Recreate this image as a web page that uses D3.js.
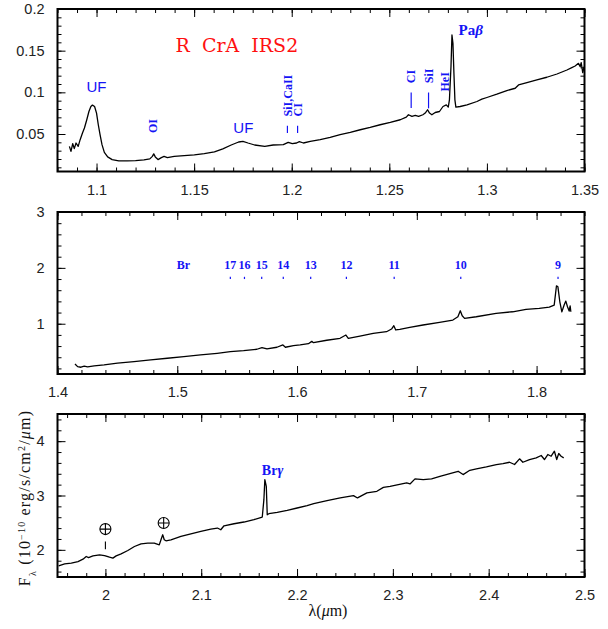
<!DOCTYPE html>
<html>
<head>
<meta charset="utf-8">
<script src="https://cdn.jsdelivr.net/npm/d3@7"></script>
<style>
  body { margin: 0; background: #fff; }
</style>
</head>
<body>
<div class="container"></div>
<script>
/* Spectrum */

// J band (top panel)
const jWave = [1.0861, 1.0869, 1.0878, 1.0886, 1.0895, 1.0906, 1.0916, 1.0928, 1.0938, 1.0950,
  1.0961, 1.0971, 1.0979, 1.0990, 1.1000, 1.1009, 1.1018, 1.1028, 1.1040, 1.1057,
  1.1080, 1.1114, 1.1157, 1.1200, 1.1243, 1.1273, 1.1286, 1.1293, 1.1301, 1.1315,
  1.1332, 1.1346, 1.1363, 1.1398, 1.1449, 1.1501, 1.1552, 1.1604, 1.1647, 1.1690,
  1.1728, 1.1750, 1.1776, 1.1810, 1.1862, 1.1905, 1.1957, 1.1982, 1.2003, 1.2025,
  1.2039, 1.2060, 1.2095, 1.2146, 1.2197, 1.2248, 1.2300, 1.2351, 1.2402, 1.2453,
  1.2505, 1.2556, 1.2587, 1.2598, 1.2616, 1.2633, 1.2650, 1.2672, 1.2684, 1.2696,
  1.2706, 1.2718, 1.2735, 1.2757, 1.2775, 1.2792, 1.2802, 1.2808, 1.2816, 1.2821,
  1.2826, 1.2831, 1.2836, 1.2841, 1.2863, 1.2898, 1.2949, 1.2974, 1.3000, 1.3051,
  1.3102, 1.3145, 1.3162, 1.3205, 1.3256, 1.3307, 1.3359, 1.3410, 1.3435, 1.3452,
  1.3469, 1.3478, 1.3483, 1.3491, 1.3498];
const jFlux = [0.0352, 0.0292, 0.0384, 0.0324, 0.0392, 0.0352, 0.0432, 0.0512, 0.0572, 0.0671,
  0.0770, 0.0830, 0.0847, 0.0830, 0.0751, 0.0611, 0.0492, 0.0372, 0.0280, 0.0225,
  0.0193, 0.0177, 0.0177, 0.0181, 0.0189, 0.0201, 0.0232, 0.0261, 0.0225, 0.0193,
  0.0217, 0.0232, 0.0217, 0.0232, 0.0240, 0.0249, 0.0264, 0.0285, 0.0321, 0.0368,
  0.0404, 0.0412, 0.0392, 0.0368, 0.0352, 0.0368, 0.0372, 0.0400, 0.0384, 0.0392,
  0.0408, 0.0392, 0.0411, 0.0432, 0.0459, 0.0492, 0.0519, 0.0551, 0.0579, 0.0611,
  0.0639, 0.0671, 0.0703, 0.0731, 0.0711, 0.0723, 0.0711, 0.0731, 0.0751, 0.0791,
  0.0751, 0.0731, 0.0758, 0.0770, 0.0830, 0.0850, 0.0823, 0.0910, 0.1309, 0.1688,
  0.1589, 0.1230, 0.0910, 0.0823, 0.0830, 0.0850, 0.0890, 0.0918, 0.0938, 0.0978,
  0.1021, 0.1049, 0.1089, 0.1117, 0.1149, 0.1181, 0.1220, 0.1268, 0.1296, 0.1316,
  0.1348, 0.1308, 0.1356, 0.1237, 0.1308];

// H band (middle panel)
const hWave = [1.4146, 1.4168, 1.4196, 1.4223, 1.4251, 1.4306, 1.4389, 1.4501, 1.4639, 1.4778,
  1.4917, 1.5055, 1.5194, 1.5333, 1.5443, 1.5554, 1.5665, 1.5707, 1.5749, 1.5832,
  1.5882, 1.5903, 1.5970, 1.6026, 1.6095, 1.6123, 1.6137, 1.6248, 1.6359, 1.6408,
  1.6428, 1.6525, 1.6636, 1.6747, 1.6789, 1.6808, 1.6824, 1.6858, 1.6941, 1.7052,
  1.7190, 1.7301, 1.7343, 1.7363, 1.7379, 1.7399, 1.7496, 1.7662, 1.7800, 1.7912,
  1.8022, 1.8106, 1.8147, 1.8166, 1.8178, 1.8194, 1.8211, 1.8230, 1.8244, 1.8258,
  1.8272, 1.8280, 1.8286];
const hFlux = [0.280, 0.232, 0.221, 0.239, 0.227, 0.245, 0.262, 0.293, 0.321, 0.352,
  0.382, 0.411, 0.441, 0.471, 0.500, 0.518, 0.543, 0.571, 0.548, 0.579,
  0.620, 0.579, 0.607, 0.620, 0.643, 0.684, 0.661, 0.704, 0.739, 0.798,
  0.739, 0.780, 0.829, 0.857, 0.905, 0.964, 0.888, 0.900, 0.936, 0.977,
  1.025, 1.066, 1.125, 1.232, 1.143, 1.096, 1.125, 1.186, 1.214, 1.257,
  1.275, 1.298, 1.334, 1.679, 1.661, 1.393, 1.214, 1.334, 1.405, 1.304,
  1.227, 1.321, 1.214];

// K band (bottom panel)
const kWave = [1.9512, 1.9575, 1.9644, 1.9714, 1.9766, 1.9800, 1.9824, 1.9870, 1.9939, 1.9991,
  2.0043, 2.0078, 2.0112, 2.0164, 2.0234, 2.0303, 2.0372, 2.0442, 2.0510, 2.0562,
  2.0580, 2.0598, 2.0614, 2.0632, 2.0684, 2.0788, 2.0892, 2.0996, 2.1100, 2.1169,
  2.1204, 2.1238, 2.1342, 2.1446, 2.1550, 2.1637, 2.1654, 2.1664, 2.1679, 2.1689,
  2.1706, 2.1793, 2.1897, 2.2001, 2.2105, 2.2174, 2.2313, 2.2451, 2.2589, 2.2631,
  2.2729, 2.2833, 2.2901, 2.2971, 2.3057, 2.3144, 2.3179, 2.3231, 2.3317, 2.3404,
  2.3491, 2.3595, 2.3681, 2.3733, 2.3803, 2.3872, 2.3976, 2.4080, 2.4149, 2.4218,
  2.4270, 2.4322, 2.4357, 2.4426, 2.4496, 2.4548, 2.4582, 2.4617, 2.4652, 2.4686,
  2.4710, 2.4731, 2.4756, 2.4783];
const kFlux = [1.705, 1.741, 1.754, 1.784, 1.828, 1.877, 1.858, 1.889, 1.908, 1.895,
  1.865, 1.847, 1.889, 1.926, 1.987, 2.061, 2.111, 2.124, 2.124, 2.092,
  2.185, 2.277, 2.185, 2.166, 2.185, 2.246, 2.295, 2.338, 2.382, 2.401,
  2.369, 2.443, 2.480, 2.512, 2.554, 2.604, 2.923, 3.293, 3.169, 2.646,
  2.665, 2.689, 2.726, 2.770, 2.813, 2.849, 2.905, 2.955, 2.997, 2.955,
  3.047, 3.077, 3.150, 3.169, 3.200, 3.232, 3.213, 3.306, 3.293, 3.306,
  3.354, 3.404, 3.446, 3.385, 3.464, 3.490, 3.527, 3.570, 3.588, 3.612,
  3.570, 3.675, 3.612, 3.662, 3.693, 3.736, 3.662, 3.754, 3.723, 3.815,
  3.662, 3.773, 3.723, 3.693];

/* Axis ticks */
const jTicksX = [1.1, 1.15, 1.2, 1.25, 1.3, 1.35];
const jTicksY = [0.05, 0.1, 0.15, 0.2];
const hTicksX = [1.4, 1.5, 1.6, 1.7, 1.8];
const hTicksY = [1, 2, 3];
const kTicksX = [2, 2.1, 2.2, 2.3, 2.4, 2.5];
const kTicksY = [2, 3, 4];

/* Line identifications (wavelength, flux where the label starts) */
// rotated labels in the J band, with the little marker below some of them
const jLineNames = ['OI', 'SiI,CaII', 'CI', 'CI', 'SiI', 'HeI'];
const jLineWave = [1.1290, 1.1978, 1.2030, 1.2612, 1.2701, 1.2782];
const jLineLabelAt = [0.0511, 0.0711, 0.0711, 0.1110, 0.1110, 0.1010];
const jLineMarkTop = [null, 0.0599, 0.0599, 0.0998, 0.0998, null];
const jLineMarkBot = [null, 0.0512, 0.0512, 0.0811, 0.0808, null];
// upright labels
const ufWave = [1.1, 1.1752];
const ufFlux = [0.101, 0.0512];

// Brackett series in H
const brNames = ['17', '16', '15', '14', '13', '12', '11', '10', '9'];
const brWave = [1.5443, 1.5561, 1.5705, 1.5885, 1.6114, 1.6412, 1.6811, 1.7367, 1.8179];

// telluric marks in K
const tellWave = [2.0, 2.0608];
const tellFlux = [2.382, 2.493];

/* Layout */
const width = 608;
const height = 629;
const left = 57.5;
const right = 584.5;
const blue = '#1414f5';
const tickFont = '"Liberation Sans", Arial, sans-serif';
const serif = '"Liberation Serif", "Times New Roman", serif';

const panels = [
  { wave: jWave, flux: jFlux, xd: [1.08, 1.35], yd: [0.005, 0.2], top: 9, bottom: 171.5,
    tx: jTicksX, ty: jTicksY, mx: 0.01, my: 0.01 },
  { wave: hWave, flux: hFlux, xd: [1.4, 1.84], yd: [0.1, 3], top: 212, bottom: 374,
    tx: hTicksX, ty: hTicksY, mx: 0.02, my: 0.2 },
  { wave: kWave, flux: kFlux, xd: [1.95, 2.5], yd: [1.5, 4.5], top: 414, bottom: 577,
    tx: kTicksX, ty: kTicksY, mx: 0.02, my: 0.2 },
];

function steps(lo, hi, step) {
  const out = [];
  for (let i = Math.ceil(lo / step - 1e-9); i * step <= hi + 1e-9; i++) {
    out.push(+(i * step).toFixed(6));
  }
  return out;
}

const svg = d3.select('.container')
  .append('svg')
  .attr('width', width)
  .attr('height', height)
  .style('background', '#fff');

function drawPanel(p) {
  const x = d3.scaleLinear().domain(p.xd).range([left, right]);
  const y = d3.scaleLinear().domain(p.yd).range([p.bottom, p.top]);
  const g = svg.append('g');
  const fmt = d3.format('~g');

  const minorX = steps(p.xd[0], p.xd[1], p.mx);
  const minorY = steps(p.yd[0], p.yd[1], p.my);

  // ticks on all four sides, pointing in
  const axes = [
    [d3.axisBottom(x), `translate(0,${p.bottom})`, true, 'x'],
    [d3.axisTop(x), `translate(0,${p.top})`, false, 'x'],
    [d3.axisLeft(y), `translate(${left},0)`, true, 'y'],
    [d3.axisRight(y), `translate(${right},0)`, false, 'y'],
  ];
  axes.forEach(([axis, tr, labelled, dim]) => {
    const major = dim === 'x' ? p.tx : p.ty;
    const minor = (dim === 'x' ? minorX : minorY);
    g.append('g').attr('transform', tr)
      .call(axis.tickValues(minor).tickSize(-4).tickFormat(''))
      .call(s => s.select('.domain').remove());
    const a = g.append('g').attr('transform', tr)
      .call(axis.tickValues(major).tickSize(-8).tickPadding(13)
        .tickFormat(labelled ? fmt : ''))
      .call(s => s.select('.domain').remove());
    a.selectAll('text')
      .attr('font-family', tickFont)
      .attr('font-size', 14.5)
      .attr('fill', '#222');
  });
  g.selectAll('.tick line').attr('stroke', '#000').attr('stroke-width', 1);

  g.append('rect')
    .attr('x', left).attr('y', p.top)
    .attr('width', right - left).attr('height', p.bottom - p.top)
    .attr('fill', 'none').attr('stroke', '#000').attr('stroke-width', 2);

  const line = d3.line().x(d => x(d[0])).y(d => y(d[1]));
  g.append('path')
    .datum(d3.zip(p.wave, p.flux))
    .attr('d', line)
    .attr('fill', 'none')
    .attr('stroke', '#000')
    .attr('stroke-width', 1.3)
    .attr('stroke-linejoin', 'round');

  return { g, x, y };
}

const [pj, ph, pk] = panels.map(drawPanel);

/* J band annotations */
pj.g.append('text')
  .attr('x', pj.x(1.1719)).attr('y', pj.y(0.1488))
  .attr('text-anchor', 'middle')
  .attr('font-family', '"DejaVu Serif", serif')
  .attr('font-size', 19)
  .attr('fill', '#ff1010')
  .attr('xml:space', 'preserve')
  .text('R  CrA  IRS2');

pj.g.selectAll('.uf')
  .data(d3.zip(ufWave, ufFlux))
  .join('text')
  .attr('x', d => pj.x(d[0])).attr('y', d => pj.y(d[1]))
  .attr('text-anchor', 'middle')
  .attr('font-family', tickFont)
  .attr('font-size', 15)
  .attr('fill', blue)
  .text('UF');

jLineNames.forEach((name, i) => {
  const lx = pj.x(jLineWave[i]);
  pj.g.append('text')
    .attr('transform', `translate(${lx},${pj.y(jLineLabelAt[i])}) rotate(-90)`)
    .attr('dy', '0.35em')
    .attr('font-family', serif)
    .attr('font-weight', 'bold')
    .attr('font-size', 12)
    .attr('fill', blue)
    .text(name);
  if (jLineMarkTop[i] !== null) {
    pj.g.append('line')
      .attr('x1', lx).attr('x2', lx)
      .attr('y1', pj.y(jLineMarkTop[i])).attr('y2', pj.y(jLineMarkBot[i]))
      .attr('stroke', blue).attr('stroke-width', 1.2);
  }
});

const pab = pj.g.append('text')
  .attr('x', pj.x(1.2855)).attr('y', pj.y(0.1688))
  .attr('font-family', serif)
  .attr('font-weight', 'bold')
  .attr('font-size', 15)
  .attr('fill', blue);
pab.append('tspan').text('Pa');
pab.append('tspan').attr('font-style', 'italic').text('β');

/* H band annotations */
ph.g.append('text')
  .attr('x', ph.x(1.5052)).attr('y', ph.y(1.977))
  .attr('text-anchor', 'middle')
  .attr('font-family', serif).attr('font-weight', 'bold').attr('font-size', 12)
  .attr('fill', blue)
  .text('Br');

ph.g.selectAll('.br')
  .data(d3.zip(brNames, brWave))
  .join('text')
  .attr('x', d => ph.x(d[1])).attr('y', ph.y(1.977))
  .attr('text-anchor', 'middle')
  .attr('font-family', serif).attr('font-weight', 'bold').attr('font-size', 12)
  .attr('fill', blue)
  .text(d => d[0]);

ph.g.selectAll('.brmark')
  .data(brWave)
  .join('line')
  .attr('x1', d => ph.x(d)).attr('x2', d => ph.x(d))
  .attr('y1', ph.y(1.84)).attr('y2', ph.y(1.80))
  .attr('stroke', blue).attr('stroke-width', 1.2);

/* K band annotations */
tellWave.forEach((w, i) => {
  const cx = pk.x(w);
  const cy = pk.y(tellFlux[i]);
  const r = 5.5;
  pk.g.append('circle')
    .attr('cx', cx).attr('cy', cy).attr('r', r)
    .attr('fill', 'none').attr('stroke', '#000').attr('stroke-width', 1.1);
  pk.g.append('path')
    .attr('d', `M${cx - r},${cy}H${cx + r}M${cx},${cy - r}V${cy + r}`)
    .attr('stroke', '#000').attr('stroke-width', 1.1);
});
pk.g.append('line')
  .attr('x1', pk.x(2.0)).attr('x2', pk.x(2.0))
  .attr('y1', pk.y(2.153)).attr('y2', pk.y(2.013))
  .attr('stroke', '#000').attr('stroke-width', 1.1);

const brg = pk.g.append('text')
  .attr('x', pk.x(2.1744)).attr('y', pk.y(3.385))
  .attr('text-anchor', 'middle')
  .attr('font-family', serif).attr('font-weight', 'bold').attr('font-size', 14)
  .attr('fill', blue);
brg.append('tspan').text('Br');
brg.append('tspan').attr('font-style', 'italic').text('γ');

/* Axis titles */
const yl = svg.append('text')
  .attr('transform', 'translate(30,498) rotate(-90)')
  .attr('text-anchor', 'middle')
  .attr('font-family', serif)
  .attr('font-size', 16)
  .attr('letter-spacing', 1.2)
  .attr('fill', '#111');
yl.append('tspan').text('F');
yl.append('tspan').attr('baseline-shift', 'sub').attr('font-size', 10).text('λ');
yl.append('tspan').text('  (10');
yl.append('tspan').attr('baseline-shift', 'super').attr('font-size', 10).text('−10');
yl.append('tspan').text('  erg/s/cm');
yl.append('tspan').attr('baseline-shift', 'super').attr('font-size', 10).text('2');
yl.append('tspan').text('/');
yl.append('tspan').attr('font-style', 'italic').text('μ');
yl.append('tspan').text('m)');

const xl = svg.append('text')
  .attr('x', 328).attr('y', 616)
  .attr('text-anchor', 'middle')
  .attr('font-family', serif)
  .attr('font-size', 16)
  .attr('fill', '#111');
xl.append('tspan').text('λ(');
xl.append('tspan').attr('font-style', 'italic').text('μ');
xl.append('tspan').text('m)');
</script>
</body>
</html>
